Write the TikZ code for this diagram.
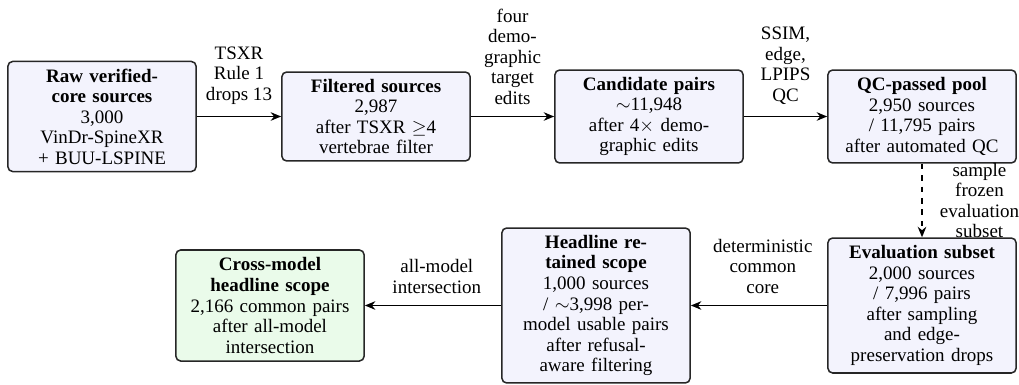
\documentclass[tikz,border=0pt]{standalone}
\usepackage{fontspec}
\setmainfont{Liberation Serif}
\usetikzlibrary{arrows.meta}
\definecolor{boxfill}{RGB}{243,243,253}
\definecolor{greenfill}{RGB}{234,251,234}
\begin{document}
\begin{tikzpicture}[x=0.526pt,y=-0.526pt,
  box/.style={draw=black!85, line width=0.8pt, rounded corners=2.5pt, fill=boxfill,
    align=center, text width=95pt, inner xsep=2pt, inner ysep=3pt,
    font=\fontsize{10}{10.8}\selectfont},
  lab/.style={align=center, inner sep=1pt, font=\fontsize{10}{10.8}\selectfont},
  arr/.style={-{Stealth[length=5.5pt,width=4.5pt]}, line width=0.8pt, black}]
\useasboundingbox (0,0) rectangle (1019,384);
\node[box, minimum height=57.9pt] (raw) at (102,116.5)
  {\textbf{Raw verified-}\\\textbf{core sources}\\3,000\\VinDr-SpineXR\\+ BUU-LSPINE};
\node[box, minimum height=46.8pt] (filt) at (376,116.5)
  {\textbf{Filtered sources}\\2,987\\after TSXR $\geq$4\\vertebrae filter};
\node[box, minimum height=48.9pt] (cand) at (649,116.5)
  {\textbf{Candidate pairs}\\$\sim$11,948\\after 4$\times$ demo-\\graphic edits};
\node[box, minimum height=48.9pt] (qc) at (922,116.5)
  {\textbf{QC-passed pool}\\2,950 sources\\/ 11,795 pairs\\after automated QC};
\node[box, minimum height=71pt] (eval) at (922,305.5)
  {\textbf{Evaluation subset}\\2,000 sources\\/ 7,996 pairs\\after sampling\\and edge-\\preservation drops};
\node[box, minimum height=81.5pt] (head) at (596,305.5)
  {\textbf{Headline re-}\\\textbf{tained scope}\\1,000 sources\\/ $\sim$3,998 per-\\model usable pairs\\after refusal-\\aware filtering};
\node[box, fill=greenfill, minimum height=58.4pt] (cross) at (270,305.5)
  {\textbf{Cross-model}\\\textbf{headline scope}\\2,166 common pairs\\after all-model\\intersection};
\draw[arr] (raw) -- node[lab, above=5pt] {TSXR\\Rule 1\\drops 13} (filt);
\draw[arr] (filt) -- node[lab, above=5pt] {four\\demo-\\graphic\\target\\edits} (cand);
\draw[arr] (cand) -- node[lab, above=5pt] {SSIM,\\edge,\\LPIPS\\QC} (qc);
\draw[arr, dashed] (qc) -- node[lab, right=8pt] {sample\\frozen\\evaluation\\subset} (eval);
\draw[arr] (eval) -- node[lab, above=5pt, xshift=2pt] {deterministic\\common\\core} (head);
\draw[arr] (head) -- node[lab, above=5pt, xshift=2pt] {all-model\\intersection} (cross);
\end{tikzpicture}
\end{document}
